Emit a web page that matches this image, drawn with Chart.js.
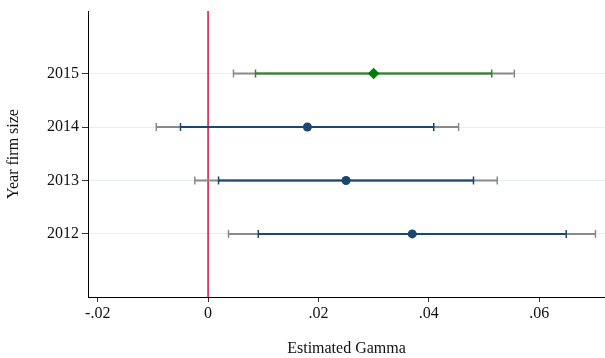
<!DOCTYPE html>
<html>
<head>
<meta charset="utf-8">
<title>Estimated Gamma by year</title>
<script src="https://cdn.jsdelivr.net/npm/chart.js@4.4.0/dist/chart.umd.min.js"></script>
<style>
  html, body { margin: 0; padding: 0; background: #fff; }
  #wrap { width: 605px; height: 358px; }
</style>
</head>
<body>
<div id="wrap"><canvas id="coef" width="605" height="358"></canvas></div>
<script>
'use strict';

/* ─── Data ──────────────────────────────────────────────────── */
const years    = [2012, 2013, 2014, 2015];
const gamma    = [0.0370, 0.0250, 0.0180, 0.0300];
const innerLo  = [0.0091, 0.0019, -0.0050, 0.0086];
const innerHi  = [0.0649, 0.0481, 0.0409, 0.0514];
const outerLo  = [0.0037, -0.0024, -0.0094, 0.0046];
const outerHi  = [0.0702, 0.0524, 0.0454, 0.0555];
const xTicks   = [-0.02, 0, 0.02, 0.04, 0.06];
const yTicks   = [2012, 2013, 2014, 2015];
const xRange   = [-0.02176, 0.07193];
const yRange   = [2010.82, 2016.17];

/* ─── Styles ────────────────────────────────────────────────── */
const NAVY  = '#1a476f';
const GREEN = '#248a24';
const GREY  = '#8a8a8a';
const RED   = '#d8103f';
const FONT  = '"Liberation Serif", "Times New Roman", serif';

// 2015 gets its own colour and marker
const colorFor  = y => (y === 2015 ? GREEN : NAVY);
const markerFor = y => (y === 2015 ? '#008000' : NAVY);

const fmtX = v => {
  if (Math.abs(v) < 1e-9) return '0';
  return v.toFixed(2).replace(/^(-?)0\./, '$1.');
};

/* ─── Datasets ──────────────────────────────────────────────── */
function ciLine(lo, hi, i, color, order) {
  return {
    type: 'line',
    data: [{ x: lo[i], y: years[i] }, { x: hi[i], y: years[i] }],
    borderColor: color,
    borderWidth: 2,
    pointStyle: 'line',
    rotation: 90,
    pointRadius: 4,
    pointBorderWidth: 1.5,
    pointBorderColor: color,
    pointHoverRadius: 4,
    fill: false,
    order
  };
}

const datasets = [];

// point estimates on top
datasets.push({
  type: 'scatter',
  data: years.map((y, i) => ({ x: gamma[i], y })),
  pointStyle: years.map(y => (y === 2015 ? 'rectRot' : 'circle')),
  pointRadius: years.map(y => (y === 2015 ? 5.8 : 4.5)),
  backgroundColor: years.map(markerFor),
  borderColor: years.map(markerFor),
  borderWidth: 0,
  order: 0
});

years.forEach((y, i) => datasets.push(ciLine(innerLo, innerHi, i, colorFor(y), 1)));
years.forEach((y, i) => datasets.push(ciLine(outerLo, outerHi, i, GREY, 2)));

// reference line at zero
datasets.push({
  type: 'line',
  data: [{ x: 0, y: yRange[0] }, { x: 0, y: yRange[1] }],
  borderColor: RED,
  borderWidth: 1.5,
  pointRadius: 0,
  order: 3
});

/* ─── Chart ─────────────────────────────────────────────────── */
new Chart(document.getElementById('coef'), {
  type: 'scatter',
  data: { datasets },
  options: {
    responsive: false,
    animation: false,
    events: [],
    layout: { autoPadding: false, padding: { top: 11, left: 0, right: 0, bottom: 0 } },
    plugins: { legend: { display: false }, tooltip: { enabled: false } },
    scales: {
      x: {
        type: 'linear',
        min: xRange[0],
        max: xRange[1],
        afterBuildTicks: s => { s.ticks = xTicks.map(v => ({ value: v })); },
        // fixed height, and no extra room reserved for end labels
        afterFit: s => { s.height = 61; s.paddingLeft = 0; s.paddingRight = 0; },
        border: { display: true, color: '#000', width: 1 },
        grid: { drawOnChartArea: false, drawTicks: true, tickLength: 5, tickColor: '#333' },
        ticks: { color: '#111', padding: 2, font: { family: FONT, size: 16 }, callback: fmtX },
        title: {
          display: true,
          text: 'Estimated Gamma',
          color: '#111',
          font: { family: FONT, size: 16 },
          padding: { top: 0, bottom: 0 }
        }
      },
      y: {
        type: 'linear',
        min: yRange[0],
        max: yRange[1],
        afterBuildTicks: s => { s.ticks = yTicks.map(v => ({ value: v })); },
        afterFit: s => { s.width = 88; s.paddingTop = 0; s.paddingBottom = 0; },
        border: { display: true, color: '#000', width: 1 },
        grid: { color: '#e9eff0', lineWidth: 1, drawTicks: true, tickLength: 6, tickColor: '#333' },
        ticks: { color: '#111', padding: 3, font: { family: FONT, size: 16 }, callback: v => String(v) },
        title: {
          display: true,
          text: 'Year firm size',
          color: '#111',
          font: { family: FONT, size: 16 },
          padding: { top: 4, bottom: 0 }
        }
      }
    }
  }
});
</script>
</body>
</html>
